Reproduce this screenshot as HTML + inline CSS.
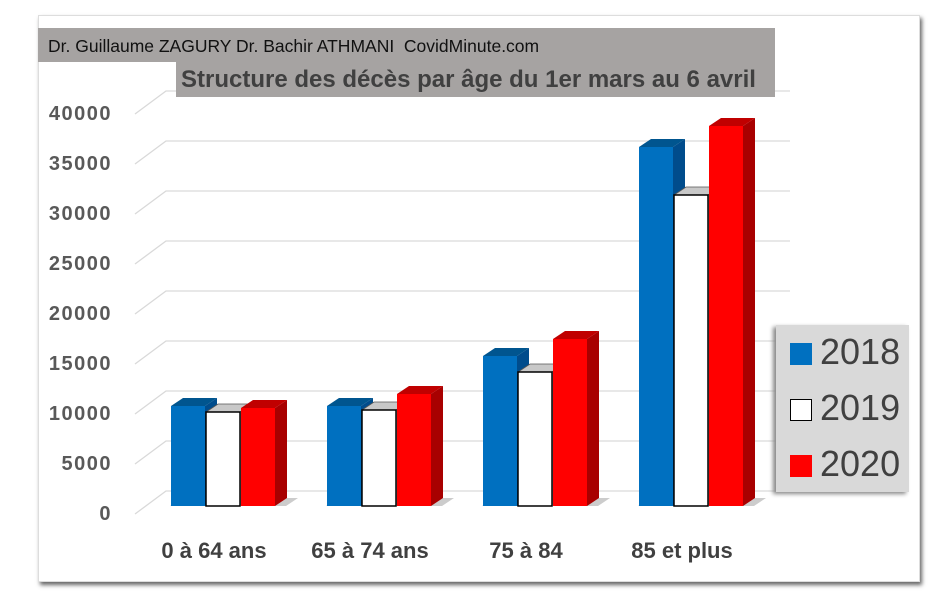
<!DOCTYPE html>
<html><head><meta charset="utf-8"><style>
body{margin:0;width:947px;height:601px;background:#fff;overflow:hidden;font-family:"Liberation Sans",sans-serif;}
#frame{position:absolute;left:38px;top:15px;width:880px;height:565px;background:#fff;box-shadow:2px 3px 4px #666;border:1px solid #ddd;}
#hdr{position:absolute;left:38px;top:28px;width:737px;height:34px;background:#a6a3a2;font-size:17.5px;color:#111;line-height:36px;padding-left:10px;box-sizing:border-box;white-space:nowrap;}
#ttl{position:absolute;left:176px;top:62px;width:599px;height:35px;background:#a6a3a2;font-size:24px;font-weight:bold;color:#404040;line-height:35px;padding-left:5px;box-sizing:border-box;white-space:nowrap;}
#leg{position:absolute;left:776px;top:325px;width:133px;height:167px;background:#d9d9d9;box-shadow:-3px 2px 4px #888;}
.li{position:absolute;left:14px;font-size:36px;color:#404040;}
.sw{display:inline-block;width:22px;height:22px;margin-right:8px;vertical-align:-1px;box-sizing:border-box;}
svg{position:absolute;left:0;top:0;}
</style></head><body>
<div id="frame"></div>
<svg id="chart" width="947" height="601"></svg>
<div id="hdr">Dr. Guillaume ZAGURY Dr. Bachir ATHMANI&nbsp; CovidMinute.com</div>
<div id="ttl">Structure des décès par âge du 1er mars au 6 avril</div>
<div id="leg">
<div class="li" style="top:6px"><span class="sw" style="background:#0070c0"></span>2018</div>
<div class="li" style="top:62px"><span class="sw" style="background:#fff;border:1px solid #000"></span>2019</div>
<div class="li" style="top:118px"><span class="sw" style="background:#ff0000"></span>2020</div>
</div>
<script>
const categories=["0 à 64 ans","65 à 74 ans","75 à 84","85 et plus"];
const s2018=[10000,10000,15000,35900];
const s2019=[9400,9600,13400,31100];
const s2020=[9800,11200,16700,38000];
const ticks=[0,5000,10000,15000,20000,25000,30000,35000,40000];
const NS="http://www.w3.org/2000/svg";
const svg=document.getElementById('chart');
function yB(v){return 491-v*0.01;}
function yF(v){return 506-v*0.01;}
function xC(i){return 222+i*156;}
function mk(t,a){const e=document.createElementNS(NS,t);for(const k in a)e.setAttribute(k,a[k]);svg.appendChild(e);return e;}
ticks.forEach(v=>{
 const l=mk('polyline',{points:`135,${yB(v)+23} 166,${yB(v)} 790,${yB(v)}`,fill:'none',stroke:'#d9d9d9','stroke-width':1.3});
 
 
 const t=mk('text',{x:112,y:yB(v)+29,'text-anchor':'end','font-size':20,'font-weight':'bold',fill:'#595959','font-family':'Liberation Sans','letter-spacing':1.5});
 t.textContent=v;
 
 
});
const series=[[s2018,'#0070c0','#004c8c','#00558f','none'],[s2019,'#ffffff','#999','#c8c8c8','#000'],[s2020,'#ff0000','#a80000','#c00000','none']];
categories.forEach((c,i)=>{
 const sh=mk('polygon',{points:`${xC(i)-52},506 ${xC(i)+64},506 ${xC(i)+76},498 ${xC(i)-40},498`,fill:'#999',opacity:0.5});
 
 
 series.forEach((s,j)=>{
  const v=s[0][i],x=xC(i)-51+j*35,w=34,top=yF(v);
  const g=document.createElementNS(NS,'g');svg.appendChild(g);
  
  
  const p=(t,a)=>{const e=document.createElementNS(NS,t);for(const k in a)e.setAttribute(k,a[k]);g.appendChild(e);};
  p('polygon',{points:`${x+w},${top} ${x+w+12},${top-8} ${x+w+12},498 ${x+w},506`,fill:s[2]});
  p('polygon',{points:`${x},${top} ${x+12},${top-8} ${x+w+12},${top-8} ${x+w},${top}`,fill:s[3],stroke:s[4]==='none'?'none':'#555','stroke-width':0.8});
  p('rect',{x:x,y:top,width:w,height:506-top,fill:s[1],stroke:s[4],'stroke-width':1.5});
 });
 const t=mk('text',{x:xC(i)-8,y:558,'text-anchor':'middle','font-size':22,'font-weight':'bold',fill:'#404040','font-family':'Liberation Sans'});
 t.textContent=c;
 
 
});
</script>
</body></html>
